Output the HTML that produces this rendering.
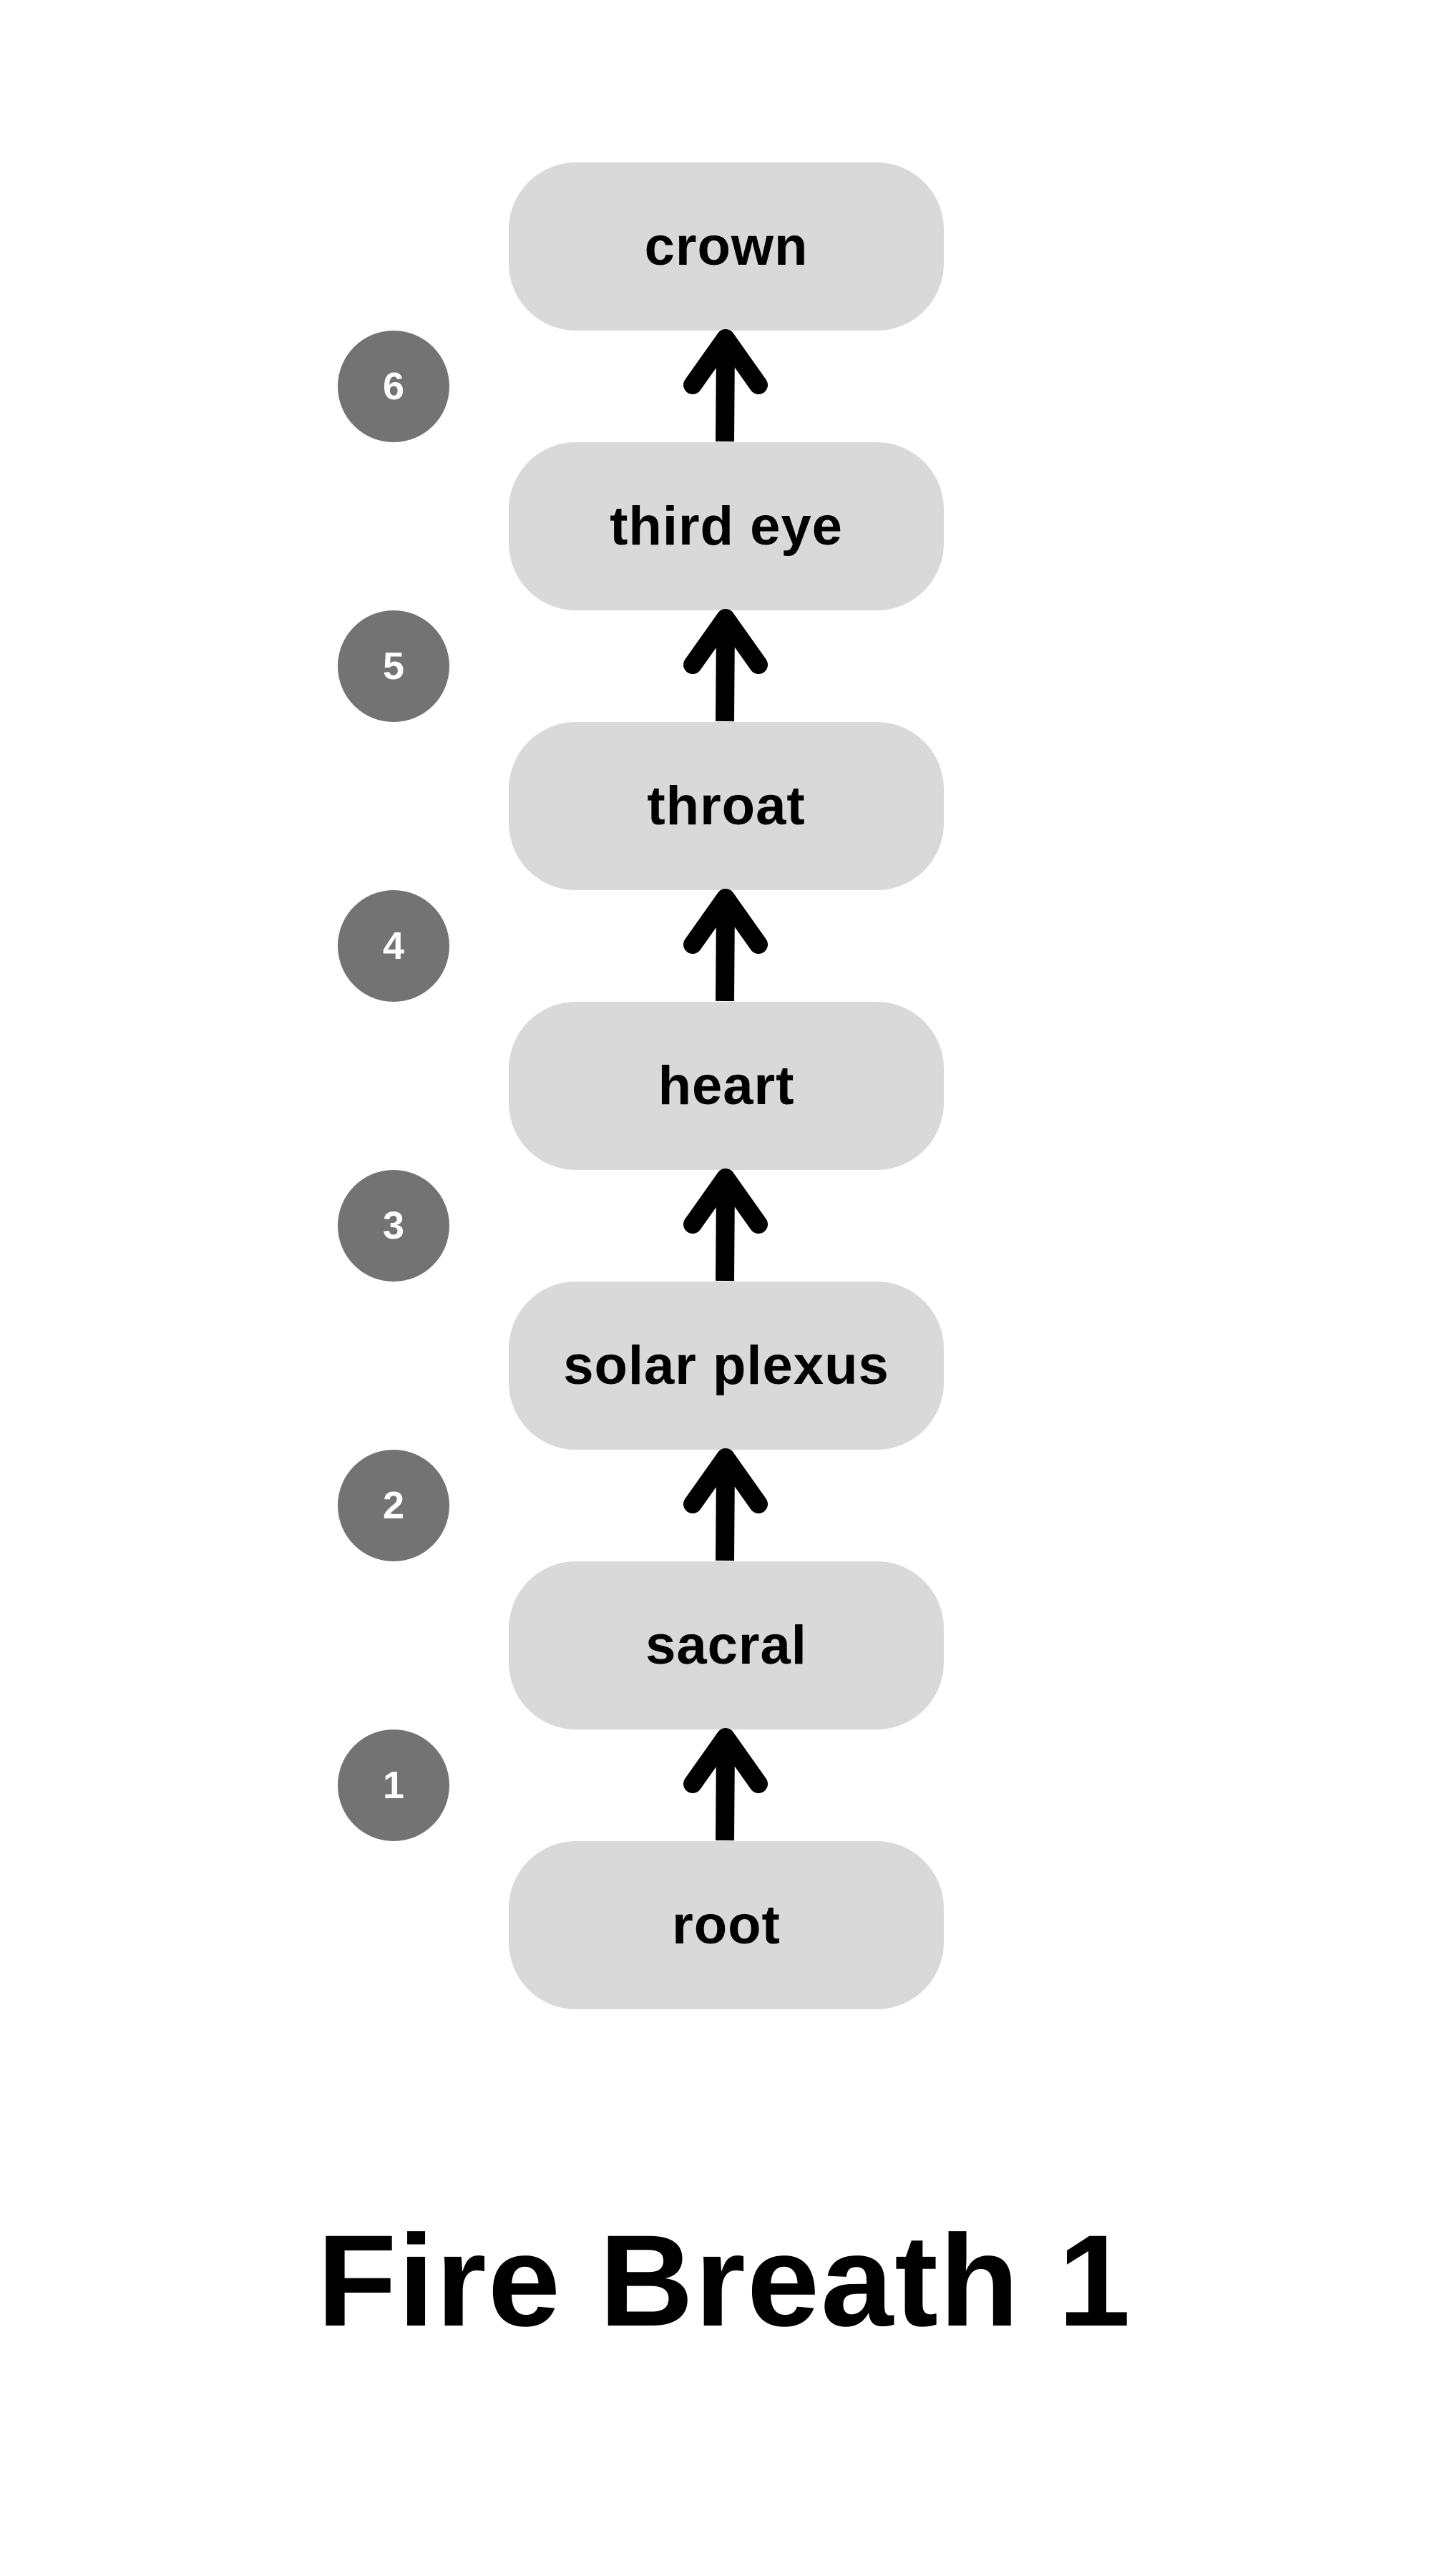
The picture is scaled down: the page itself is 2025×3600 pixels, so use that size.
<!DOCTYPE html>
<html><head><meta charset="utf-8"><style>
html,body{margin:0;padding:0;background:#fff;}
body{width:2025px;height:3600px;position:relative;overflow:hidden;font-family:"Liberation Sans",sans-serif;}
.box{position:absolute;left:711px;width:608px;height:235px;border-radius:94px;background:#d9d9d9;display:flex;align-items:center;justify-content:center;font-weight:bold;font-size:76px;color:#000;letter-spacing:1px;}
.c{position:absolute;left:472px;width:156px;height:156px;border-radius:50%;background:#737373;color:#fff;font-weight:bold;font-size:54px;display:flex;align-items:center;justify-content:center;}
.t{position:absolute;left:0;width:2025px;top:3082px;text-align:center;font-weight:bold;font-size:182px;letter-spacing:2px;}
</style></head><body>
<div class="box" style="top:227px">crown</div>
<div class="box" style="top:618px">third eye</div>
<div class="box" style="top:1009px">throat</div>
<div class="box" style="top:1400px">heart</div>
<div class="box" style="top:1791px">solar plexus</div>
<div class="box" style="top:2182px">sacral</div>
<div class="box" style="top:2573px">root</div>
<div class="c" style="top:462px">6</div>
<div class="c" style="top:853px">5</div>
<div class="c" style="top:1244px">4</div>
<div class="c" style="top:1635px">3</div>
<div class="c" style="top:2026px">2</div>
<div class="c" style="top:2417px">1</div>
<svg width="2025" height="3600" style="position:absolute;left:0;top:0" fill="none" stroke="#000" stroke-width="26" stroke-linecap="round" stroke-linejoin="round">
<g id="a"><path d="M1013 617 L1014 480" stroke-linecap="butt"/><path d="M968 538 L1014 473 L1060 538"/></g>
<use href="#a" y="391"/><use href="#a" y="782"/><use href="#a" y="1173"/><use href="#a" y="1564"/><use href="#a" y="1955"/>
</svg>
<div class="t">Fire Breath 1</div>
</body></html>
